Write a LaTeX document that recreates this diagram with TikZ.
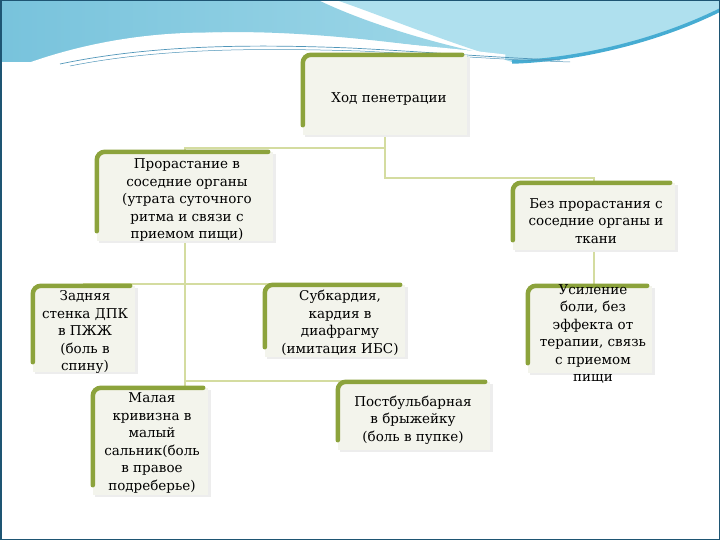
\documentclass[tikz,border=0pt]{standalone}
\usepackage{fontspec}
\setmainfont{DejaVu Serif}
\usetikzlibrary{backgrounds,calc}
\definecolor{boxfill}{RGB}{243,244,236}
\definecolor{oliveedge}{RGB}{140,163,60}
\definecolor{connc}{RGB}{212,220,160}
\definecolor{frame}{RGB}{30,85,115}
\definecolor{blueA}{RGB}{120,195,220}
\definecolor{blueB}{RGB}{160,216,232}
\definecolor{blueC}{RGB}{175,224,238}
\definecolor{blueD}{RGB}{70,172,210}
\definecolor{blueLine}{RGB}{80,150,185}
\tikzset{
  gbox/.style={draw=none, fill=boxfill, inner sep=0pt},
  txt/.style={align=center, inner sep=0pt, font=\fontsize{13.5}{17.5}\selectfont},
  conn/.style={draw=connc, line width=2pt},
  edgestyle/.style={draw=oliveedge, line width=4.5pt, rounded corners=8pt, line cap=round}
}
\newcommand\oliveedge[1]{%
  \fill[black!7] ([xshift=2pt,yshift=-2pt]#1.south west) rectangle ([xshift=3pt,yshift=-2pt]#1.north east);
  \fill[boxfill] (#1.south west) rectangle (#1.north east);
  \draw[edgestyle] ([yshift=10pt]#1.south west) -- (#1.north west) -- ([xshift=-5pt]#1.north east);
}
\begin{document}
\begin{tikzpicture}[x=1pt,y=1pt]
\useasboundingbox (0,0) rectangle (720,-540);

% boxes
\node[gbox, minimum width=164pt, minimum height=80pt] (top) at (385,-95) {};
\node[gbox, minimum width=176pt, minimum height=89pt] (b1) at (185,-196.5) {};
\node[gbox, minimum width=162pt, minimum height=67pt] (b2) at (594,-216.5) {};
\node[gbox, minimum width=102pt, minimum height=86pt] (b3) at (84,-329) {};
\node[gbox, minimum width=140pt, minimum height=72pt] (b4) at (335,-321) {};
\node[gbox, minimum width=115pt, minimum height=107pt] (b5) at (150.5,-441.5) {};
\node[gbox, minimum width=152pt, minimum height=68pt] (b6) at (414,-416) {};
\node[gbox, minimum width=124pt, minimum height=87pt] (b7) at (590,-329.5) {};

\begin{pgfonlayer}{background}
\fill[white] (0,0) rectangle (720,-540);
% decoration
\shade[left color=blueA, right color=blueB]
  (0,0) -- (318,0) .. controls (370,-25) and (440,-45) .. (505,-58)
  .. controls (420,-45) and (300,-28) .. (200,-33)
  .. controls (120,-38) and (60,-55) .. (40,-62) -- (0,-62) -- cycle;
\fill[blueC] (336,0) -- (720,0) -- (720,-8) .. controls (660,-40) and (580,-62) .. (512,-62)
  .. controls (440,-40) and (380,-15) .. (336,0) -- cycle;
\draw[blueD, line width=3.5pt] (512,-62) .. controls (580,-60) and (660,-40) .. (720,-10);
\draw[white, line width=7pt] (30,-66) .. controls (90,-45) and (150,-36) .. (210,-36)
  .. controls (300,-38) and (420,-48) .. (505,-58);
\draw[blueLine, line width=0.7pt] (60,-64) .. controls (150,-45) and (250,-44) .. (350,-48)
  .. controls (430,-52) and (500,-58) .. (560,-60);
\draw[blueLine, line width=0.5pt] (70,-66) .. controls (160,-48) and (260,-48) .. (360,-51)
  .. controls (440,-55) and (510,-60) .. (570,-62);
\draw[frame, line width=1.5pt] (0.75,-0.75) rectangle (719.25,-539.25);
% connectors
\draw[conn] (top.south) -- ++(0,-13) -| (b1.north);
\draw[conn] (top.south) -- ++(0,-43) -| (b2.north);
\draw[conn] (b1.south) -- ++(0,-43) -| (b3.north);
\draw[conn] (b1.south) -- ++(0,-43) -| (b4.north);
\draw[conn] (b1.south) -- (b1.south |- b5.north);
\draw[conn] (b1.south) -- ++(0,-140) -| (b6.north);
\draw[conn] (b2.south) -- (b2.south |- b7.north);
\end{pgfonlayer}

\oliveedge{top}
\oliveedge{b1}
\oliveedge{b2}
\oliveedge{b3}
\oliveedge{b4}
\oliveedge{b5}
\oliveedge{b6}
\oliveedge{b7}

% texts
\node[txt] (ttop) at (389,-99) {Ход пенетрации};
\node[txt] (t1) at (187,-200) {Прорастание в\\соседние органы\\(утрата суточного\\ритма и связи с\\приемом пищи)};
\node[txt] (t2) at (596,-221) {Без прорастания с\\соседние органы и\\ткани};
\node[txt] (t3) at (85,-332) {Задняя\\стенка ДПК\\в ПЖЖ\\(боль в\\спину)};
\node[txt] (t4) at (340,-323) {Субкардия,\\кардия в\\диафрагму\\(имитация ИБС)};
\node[txt] (t5) at (152,-443) {Малая\\кривизна в\\малый\\сальник(боль\\в правое\\подреберье)};
\node[txt] (t6) at (413,-420) {Постбульбарная\\в брыжейку\\(боль в пупке)};
\node[txt] (t7) at (593,-334) {Усиление\\боли, без\\эффекта от\\терапии, связь\\с приемом\\пищи};
\end{tikzpicture}
\end{document}
